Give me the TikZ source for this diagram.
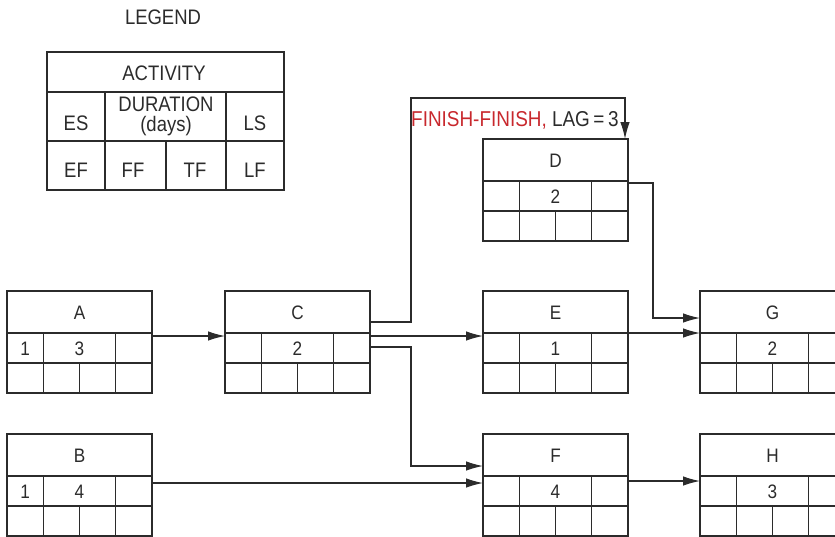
\documentclass[tikz,border=0pt]{standalone}
\usepackage{fontspec}
\setmainfont{Liberation Sans}[FakeStretch=0.88]
\usetikzlibrary{arrows.meta}
\definecolor{ink}{HTML}{2B2B2B}
\definecolor{lagred}{HTML}{C8282D}
\tikzset{
  actframe/.style={draw=ink, line width=1.2pt, rectangle, anchor=north west,
    minimum width=145pt, minimum height=102pt, inner sep=0pt, outer sep=0pt},
  cell/.style={draw=ink, line width=1.2pt},
  lbl/.style={inner sep=0pt, text=ink, font=\fontsize{19.5}{21}\selectfont},
  leglbl/.style={inner sep=0pt, text=ink, font=\fontsize{21}{20}\selectfont, align=center},
  arr/.style={draw=ink, line width=1.2pt, -{Latex[length=17pt,width=9.5pt]}},
}
\newcommand\actbox[6]{%
  \begin{scope}[shift={(#2,#3)}]
    \node[actframe] (#1) at (0,0) {};
    \draw[cell] (0,42) -- (145,42) (0,72) -- (145,72)
      (36.25,42) -- (36.25,102) (108.75,42) -- (108.75,102) (72.5,72) -- (72.5,102);
    \node[lbl] (#1-name) at (72.5,21.5) {#4};
    \if\relax\detokenize{#5}\relax\else\node[lbl] (#1-es) at (18.1,57.5) {#5};\fi
    \node[lbl] (#1-dur) at (72.5,57.5) {#6};
  \end{scope}}
\begin{document}
\begin{tikzpicture}[x=1pt,y=-1pt]
\useasboundingbox (0,0) rectangle (835,536);
\clip (0,0) rectangle (835,536);
% legend
\node[leglbl] (legtitle) at (163,17.5) {LEGEND};
\node[draw=ink, line width=1.2pt, rectangle, anchor=north west, minimum width=237pt,
  minimum height=138pt, inner sep=0pt, outer sep=0pt] (legend) at (47,52) {};
\draw[cell] (47,92) -- (284,92) (47,141) -- (284,141)
  (105,92) -- (105,190) (226,92) -- (226,190) (166,141) -- (166,190);
\node[leglbl] (lact) at (164,73.5) {ACTIVITY};
\node[leglbl] (les) at (76,123) {ES};
\node[leglbl] (ldur) at (166,116.5) {DURATION\\(days)};
\node[leglbl] (lls) at (255,123) {LS};
\node[leglbl] (lef) at (76,170) {EF};
\node[leglbl] (lff) at (133,170) {FF};
\node[leglbl] (ltf) at (195,170) {TF};
\node[leglbl] (llf) at (255,170) {LF};
% activities
\actbox{A}{7}{291}{A}{1}{3}
\actbox{B}{7}{434}{B}{1}{4}
\actbox{C}{225}{291}{C}{}{2}
\actbox{D}{483}{139}{D}{}{2}
\actbox{E}{483}{291}{E}{}{1}
\actbox{F}{483}{434}{F}{}{4}
\actbox{G}{700}{291}{G}{}{2}
\actbox{H}{700}{434}{H}{}{3}
% lag label
\node[inner sep=0pt, anchor=base west, font=\fontsize{21.5}{23}\selectfont] (lag) at (411,126)
  {\textcolor{lagred}{FINISH-FINISH,} \textcolor{ink}{LAG\,=\,3}};
% connectors
\draw[arr] ([yshift=-45pt]A.north east) -- ([yshift=-45pt]C.north west);
\draw[arr] ([yshift=-31pt]C.north east) -- ++(41,0) |- ([xshift=-3pt,yshift=41pt]D.north east)
  -- ([xshift=-3pt]D.north east);
\draw[arr] ([yshift=-45pt]C.north east) -- ([yshift=-45pt]E.north west);
\draw[arr] ([yshift=-56pt]C.north east) -- ++(41,0) |- ([yshift=-32pt]F.north west);
\draw[arr] ([yshift=-49pt]B.north east) -- ([yshift=-49pt]F.north west);
\draw[arr] ([yshift=-44pt]D.north east) -- ++(25,0) |- ([yshift=-27pt]G.north west);
\draw[arr] ([yshift=-42pt]E.north east) -- ([yshift=-42pt]G.north west);
\draw[arr] ([yshift=-47pt]F.north east) -- ([yshift=-47pt]H.north west);
\end{tikzpicture}
\end{document}
